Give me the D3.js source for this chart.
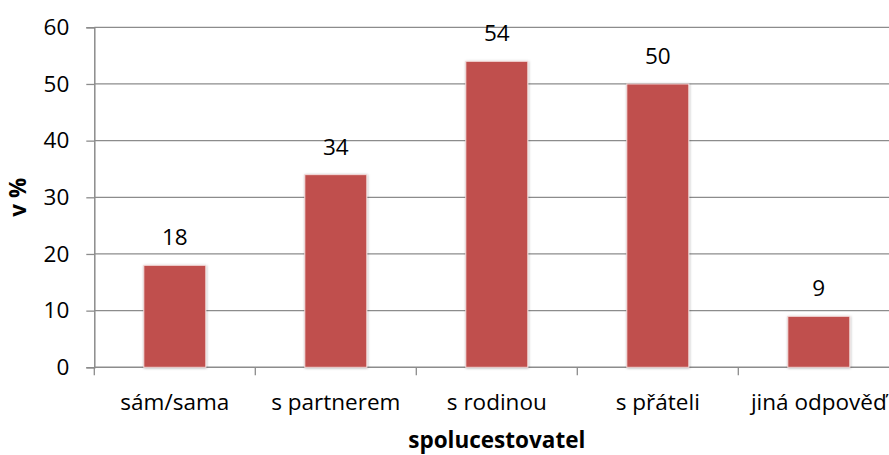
<!DOCTYPE html>
<html>
<head>
<meta charset="utf-8">
<script src="https://cdn.jsdelivr.net/npm/d3@7"></script>
<style>
  html, body { margin: 0; padding: 0; background: #fff; }
  svg { display: block; font-family: "Open Sans", Lato, sans-serif; }
</style>
</head>
<body>
<svg id="chart" width="889" height="455"></svg>
<script>
// Podíl respondentů podle spolucestovatele (v %)
const categories = ["sám/sama", "s partnerem", "s rodinou", "s přáteli", "jiná odpověď"];
const values = [18, 34, 54, 50, 9];
const yTicks = [0, 10, 20, 30, 40, 50, 60];

const svg = d3.select("#chart");
const plotLeft = 94.3, plotTop = 27.3, plotBottom = 367.3;
const catWidth = 161;
const plotRight = plotLeft + catWidth * categories.length;
const fontSize = 22.5;

const x = d3.scaleBand().domain(categories).range([plotLeft, plotRight]).paddingInner(0).paddingOuter(0);
const y = d3.scaleLinear().domain([0, 60]).range([plotBottom, plotTop]);

const gridColor = "#8c8c8c";

// soft shadow around bars
const defs = svg.append("defs");
const f = defs.append("filter").attr("id", "shadow").attr("x", "-20%").attr("y", "-20%").attr("width", "140%").attr("height", "140%");
f.append("feDropShadow").attr("dx", 0.5).attr("dy", 0.5).attr("stdDeviation", 1.2).attr("flood-color", "#000").attr("flood-opacity", 0.3);

// horizontal gridlines
svg.append("g").selectAll("line").data(yTicks.filter(d => d > 0)).join("line")
  .attr("x1", plotLeft).attr("x2", plotRight)
  .attr("y1", d => y(d)).attr("y2", d => y(d))
  .attr("stroke", gridColor).attr("stroke-width", 1.3);

// y axis
const yAxis = d3.axisLeft(y).tickValues(yTicks).tickSize(8).tickPadding(17).tickFormat(d3.format("d"));
const gy = svg.append("g").attr("transform", `translate(${plotLeft},0)`).call(yAxis);
gy.select(".domain").attr("stroke", gridColor).attr("stroke-width", 1.5);
gy.selectAll(".tick line").attr("stroke", gridColor).attr("stroke-width", 1.3);
gy.selectAll(".tick text").attr("font-size", fontSize).attr("fill", "#000").attr("font-family", "'Open Sans', sans-serif");

// x axis with boundary ticks between categories
const gx = svg.append("g");
gx.append("line").attr("x1", plotLeft).attr("x2", plotRight).attr("y1", plotBottom).attr("y2", plotBottom)
  .attr("stroke", gridColor).attr("stroke-width", 1.5);
const bounds = d3.range(categories.length + 1).map(i => plotLeft + i * x.bandwidth());
gx.selectAll("line.tk").data(bounds).join("line").attr("class", "tk")
  .attr("x1", d => d).attr("x2", d => d).attr("y1", plotBottom).attr("y2", plotBottom + 8)
  .attr("stroke", gridColor).attr("stroke-width", 1.3);
gx.selectAll("text").data(categories).join("text")
  .attr("x", d => x(d) + x.bandwidth() / 2).attr("y", 410)
  .attr("text-anchor", "middle").attr("font-size", fontSize).attr("fill", "#000")
  .text(d => d);

// bars
const barW = 62;
svg.append("g").selectAll("rect").data(values).join("rect")
  .attr("x", (d, i) => x(categories[i]) + x.bandwidth() / 2 - barW / 2)
  .attr("y", d => y(d))
  .attr("width", barW)
  .attr("height", d => y(0) - y(d))
  .attr("fill", "#c0504d")
  .attr("stroke", "#f4dcdc").attr("stroke-width", 1)
  .attr("filter", "url(#shadow)");

// value labels
svg.append("g").selectAll("text").data(values).join("text")
  .attr("x", (d, i) => x(categories[i]) + x.bandwidth() / 2)
  .attr("y", d => y(d) - 20)
  .attr("text-anchor", "middle").attr("font-size", fontSize).attr("fill", "#000")
  .text(d => d);

// axis titles
svg.append("text").attr("transform", `translate(26,${(plotTop + plotBottom) / 2}) rotate(-90)`)
  .attr("text-anchor", "middle").attr("font-size", fontSize).attr("font-weight", "bold")
  .text("v %");
svg.append("text").attr("x", (plotLeft + plotRight) / 2).attr("y", 448)
  .attr("text-anchor", "middle").attr("font-size", fontSize).attr("font-weight", "bold")
  .text("spolucestovatel");
</script>
</body>
</html>
